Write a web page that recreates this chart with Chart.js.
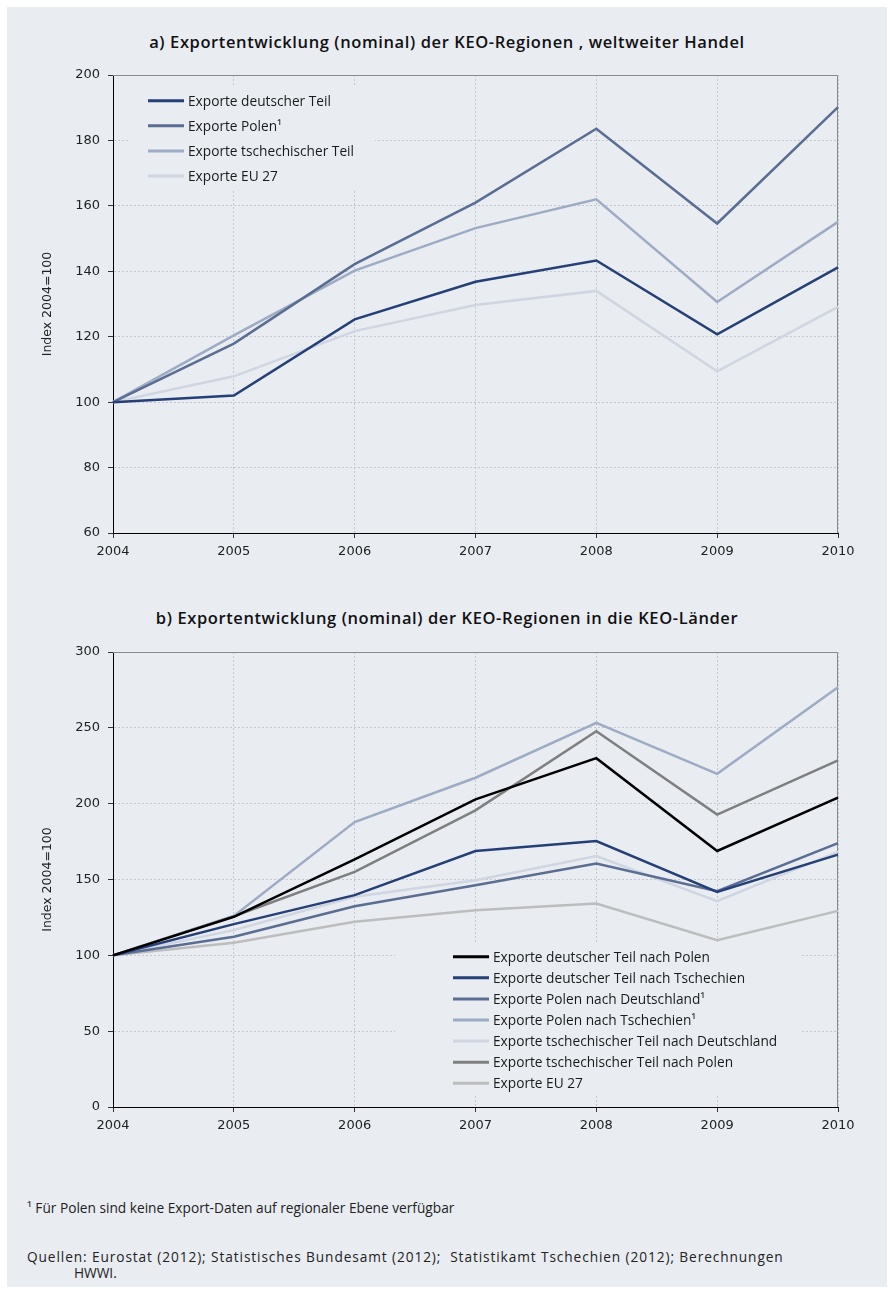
<!DOCTYPE html>
<html>
<head>
<meta charset="utf-8">
<script src="https://cdn.jsdelivr.net/npm/chart.js@4/dist/chart.umd.min.js"></script>
<style>
  html, body { margin: 0; padding: 0; background: #fff; }
  #page { position: relative; width: 894px; height: 1294px; }
  #panel { position: absolute; left: 7px; top: 7px; right: 7px; bottom: 7px; background: #e9ecf1; }
  .title { position: absolute; left: 0; width: 894px; text-align: center; letter-spacing: 0.6px;
           font: 600 16.5px "Open Sans", sans-serif; color: #111; }
  .box { position: absolute; left: 0; width: 894px; }
  .note { position: absolute; left: 27px; font: 13.7px "Open Sans", sans-serif; color: #222; white-space: nowrap; }
</style>
</head>
<body>
<div id="page">
  <div id="panel"></div>
  <div class="title" style="top:30px">a) Exportentwicklung (nominal) der KEO-Regionen , weltweiter Handel</div>
  <div class="box" style="top:20px;height:560px"><canvas id="chartA"></canvas></div>
  <div class="title" style="top:606px">b) Exportentwicklung (nominal) der KEO-Regionen in die KEO-Länder</div>
  <div class="box" style="top:600px;height:554px"><canvas id="chartB"></canvas></div>
  <div class="note" style="top:1198px">¹ Für Polen sind keine Export-Daten auf regionaler Ebene verfügbar</div>
  <div class="note" style="top:1247px;letter-spacing:0.9px">Quellen: Eurostat (2012); Statistisches Bundesamt (2012);&nbsp; Statistikamt Tschechien (2012); Berechnungen</div>
  <div class="note" style="top:1263px;left:74px">HWWI.</div>
</div>
<script>
(function () {
  const YEARS = ["2004", "2005", "2006", "2007", "2008", "2009", "2010"];

  // a) weltweiter Handel
  const deA = [100, 102, 125.3, 136.8, 143.3, 120.7, 141.2];
  const plA = [100, 117.9, 142.2, 161, 183.6, 154.6, 190.2];
  const czA = [100, 120.4, 140.2, 153.2, 162, 130.6, 155.1];
  const euA = [100, 107.9, 121.7, 129.7, 134, 109.4, 129.1];

  // b) in die KEO-Länder
  const dePl = [100, 125.4, 163.2, 202.8, 230, 168.8, 204];
  const deCz = [100, 120.6, 139.7, 168.8, 175.4, 141.8, 166.4];
  const plDe = [100, 112.3, 132.4, 146.2, 160.5, 142.3, 174];
  const plCz = [100, 126, 187.9, 217.1, 253.3, 219.7, 276.7];
  const czDe = [100, 116.6, 138.6, 149.5, 165.5, 135.7, 168.2];
  const czPl = [100, 125.8, 155, 195.6, 247.8, 192.8, 228.5];
  const euB = [100, 108.3, 122.1, 129.8, 134.2, 110, 129.3];

  const COL = {
    navy: "#253f77", mid: "#5a6d93", light: "#9eabc4", pale: "#cfd5e1",
    black: "#000000", grey: "#7f7f7f", lgrey: "#bdbdbd",
  };
  const BG = "#e9ecf1";

  // legend drawn inside the plot + grey frame top/right
  const insideLegend = {
    id: "insideLegend",
    beforeDatasetsDraw(chart, args, o) {
      const { ctx, chartArea: a } = chart;
      ctx.save();
      ctx.fillStyle = BG;
      ctx.fillRect(a.left + o.box[0], a.top + o.box[1], o.box[2], o.box[3]);
      ctx.strokeStyle = "#8a8a8a";
      ctx.lineWidth = 1;
      ctx.beginPath();
      ctx.moveTo(a.left, a.top + 0.5);
      ctx.lineTo(a.right - 0.5, a.top + 0.5);
      ctx.lineTo(a.right - 0.5, a.bottom);
      ctx.stroke();
      ctx.restore();
    },
    afterDatasetsDraw(chart, args, o) {
      const { ctx, chartArea: a } = chart;
      ctx.save();
      ctx.font = '13.7px "Open Sans"';
      ctx.textBaseline = "middle";
      chart.data.datasets.forEach((ds, i) => {
        const x = a.left + o.dx;
        const y = a.top + o.dy + i * o.rowH;
        ctx.strokeStyle = ds.borderColor;
        ctx.lineWidth = 3;
        ctx.beginPath();
        ctx.moveTo(x, y);
        ctx.lineTo(x + 36, y);
        ctx.stroke();
        ctx.fillStyle = "#1a1a1a";
        ctx.fillText(ds.label, x + 40, y + 1);
      });
      ctx.restore();
    },
  };

  const line = (label, data, color) => ({
    label, data, borderColor: color, backgroundColor: color,
    borderWidth: 2.5, pointRadius: 0, tension: 0, fill: false,
  });

  const tickFont = { family: "DejaVu Sans", size: 13 };
  const grid = {
    color: "#c3c7ce", tickLength: 5,
    tickColor: "#333", tickBorderDash: [], tickWidth: 1,
  };

  function opts(min, max, step, legend, padTop) {
    return {
      responsive: true,
      maintainAspectRatio: false,
      animation: false,
      layout: { padding: { left: 0, right: 56, top: padTop, bottom: 0 } },
      plugins: { legend: { display: false }, tooltip: { enabled: false }, insideLegend: legend },
      scales: {
        x: {
          type: "category",
          offset: false,
          grid,
          border: { color: "#000", width: 1, dash: [2, 2] },
          ticks: { font: tickFont, color: "#222", padding: 6, maxRotation: 0, autoSkip: false },
          afterFit: (s) => { s.height = 47; },
        },
        y: {
          min, max,
          grid,
          border: { color: "#000", width: 1, dash: [2, 2] },
          ticks: { font: tickFont, color: "#222", padding: 8, stepSize: step },
          title: { display: true, text: "Index 2004=100", color: "#222",
                   font: { family: "DejaVu Sans", size: 12.5 }, padding: { top: 40, bottom: 0 } },
          afterFit: (s) => { s.width = 113; },
        },
      },
    };
  }

  new Chart(document.getElementById("chartA"), {
    type: "line",
    data: {
      labels: YEARS,
      datasets: [
        line("Exporte deutscher Teil", deA, COL.navy),
        line("Exporte Polen\u00B9", plA, COL.mid),
        line("Exporte tschechischer Teil", czA, COL.light),
        line("Exporte EU 27", euA, COL.pale),
      ],
    },
    options: opts(60, 200, 20, { dx: 35, dy: 25.7, rowH: 25.1, box: [15, 12, 247, 103] }, 55),
    plugins: [insideLegend],
  });

  new Chart(document.getElementById("chartB"), {
    type: "line",
    data: {
      labels: YEARS,
      datasets: [
        line("Exporte deutscher Teil nach Polen", dePl, COL.black),
        line("Exporte deutscher Teil nach Tschechien", deCz, COL.navy),
        line("Exporte Polen nach Deutschland\u00B9", plDe, COL.mid),
        line("Exporte Polen nach Tschechien\u00B9", plCz, COL.light),
        line("Exporte tschechischer Teil nach Deutschland", czDe, COL.pale),
        line("Exporte tschechischer Teil nach Polen", czPl, COL.grey),
        line("Exporte EU 27", euB, COL.lgrey),
      ],
    },
    options: opts(0, 300, 50, { dx: 340, dy: 304.7, rowH: 21.1, box: [282, 292, 405, 152] }, 52),
    plugins: [insideLegend],
  });
})();
</script>
</body>
</html>
